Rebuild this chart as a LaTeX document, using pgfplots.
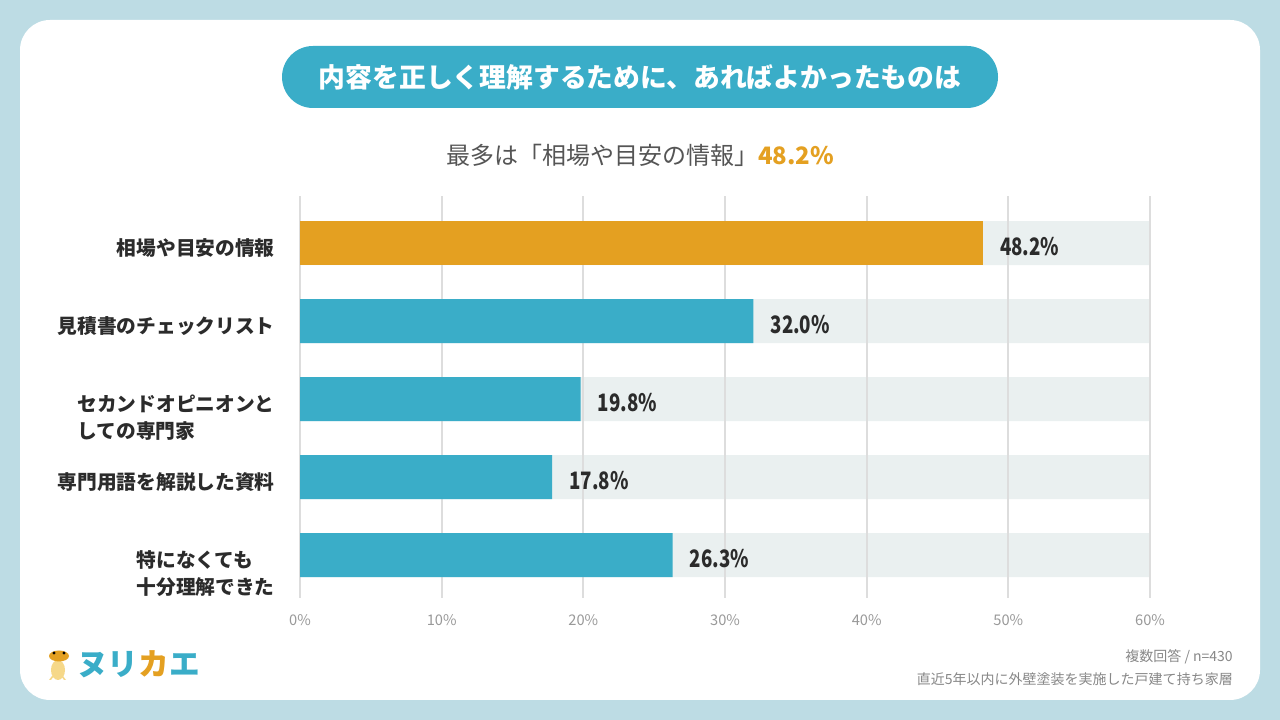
\documentclass[border=0pt]{standalone}
\usepackage{pgfplots}
\pgfplotsset{compat=1.18}
\usepackage{fontspec}
\setmainfont{Noto Sans CJK JP}
\newfontfamily\numfont{Noto Sans CJK JP}[FakeStretch=0.78]
\definecolor{pagebg}{HTML}{BDDCE4}
\definecolor{teal}{HTML}{3AADC8}
\definecolor{orng}{HTML}{E4A021}
\definecolor{barbg}{HTML}{EAF0F0}
\definecolor{gridc}{HTML}{DDDDDD}
\definecolor{dark}{HTML}{2B2B2B}
\definecolor{tickc}{HTML}{999999}
\definecolor{footc}{HTML}{888888}
\definecolor{subc}{HTML}{555555}
\definecolor{frogbody}{HTML}{F6D889}
\newcommand{\twoline}[2]{\begin{tabular}[t]{@{}l@{}}#1\\#2\end{tabular}}
\pgfplotsset{
  common/.style={
    at={(225pt,91.5pt)}, anchor=south west,
    scale only axis,
    width=637.5pt, height=301.3pt,
    xbar, bar width=33pt,
    xmin=0, xmax=60,
    ymin=-0.6, ymax=4.55,
    y dir=reverse,
    axis line style={draw=none},
    tick style={draw=none},
    major tick length=0pt,
    clip=false,
  },
  vlabel/.style={
    point meta=x,
    nodes near coords={\pgfmathprintnumber[fixed,fixed zerofill,precision=1]{\pgfplotspointmeta}\%},
    nodes near coords style={anchor=base west, inner sep=0pt, xshift=12.75pt, yshift=-9.5pt, font=\numfont\bfseries\fontsize{18}{22}\selectfont, text=dark, /pgf/number format/assume math mode=true},
  },
}
\begin{document}
\begin{tikzpicture}
\begin{scope}[x=0.75pt,y=0.75pt]
% background and panel
\fill[pagebg] (0,0) rectangle (1280,720);
\fill[white,rounded corners=22.5pt] (20,20) rectangle (1260,700);
% title pill
\fill[teal,rounded corners=23.25pt] (282,674) rectangle (998,612);
\node[text=white,font=\bfseries\fontsize{20.1}{24}\selectfont] at (640,643) {内容を正しく理解するために、あればよかったものは};
% subtitle
\node[font=\fontsize{18}{22}\selectfont] at (640,565) {\textcolor{subc}{最多は「相場や目安の情報」}\textcolor{orng}{\bfseries 48.2\%}};
\end{scope}
% axis 1: background bars only
\begin{axis}[common, xtick=\empty, ytick=\empty]
\addplot[draw=none, fill=barbg, bar shift=0pt] coordinates {(60,0) (60,1) (60,2) (60,3) (60,4)};
\end{axis}
% axis 2: grid, value bars, labels
\begin{axis}[common,
  xtick={0,10,20,30,40,50,60},
  xticklabel={\pgfmathprintnumber{\tick}\%},
  ytick={0,1,2,3,4},
  yticklabels={相場や目安の情報,見積書のチェックリスト,{\twoline{セカンドオピニオンと}{しての専門家}},専門用語を解説した資料,{\twoline{特になくても}{十分理解できた}}},
  /pgf/number format/assume math mode=true,
  xmajorgrids,
  grid style={gridc, line width=1.5pt},
  xticklabel style={font=\fontsize{11}{13}\selectfont, text=tickc, anchor=center, yshift=-16.5pt},
  yticklabel style={font=\bfseries\fontsize{14.8}{20.25}\selectfont, text=dark, anchor=base east, inner sep=0pt, xshift=-18.75pt, yshift=-9.3pt},
]
\addplot[draw=none, fill=teal, bar shift=0pt, vlabel]
  coordinates {(32.0,1) (19.8,2) (17.8,3) (26.3,4)};
\addplot[draw=none, fill=orng, bar shift=0pt, vlabel]
  coordinates {(48.2,0)};
\end{axis}
\begin{scope}[x=0.75pt,y=0.75pt]
% footnotes
\node[anchor=east, inner sep=0pt, text=footc, font=\fontsize{10.5}{12}\selectfont] at (1233,63) {複数回答 / n=430};
\node[anchor=east, inner sep=0pt, text=footc, font=\fontsize{10.5}{12}\selectfont] at (1233,41) {直近5年以内に外壁塗装を実施した戸建て持ち家層};
% logo
\fill[frogbody] (58,50) ellipse [x radius=7, y radius=10];
\fill[frogbody] (52,44) -- (49,40) -- (51,40) -- (54,44) -- cycle;
\fill[frogbody] (63,44) -- (66,40) -- (64,40) -- (61,44) -- cycle;
\fill[orng] (59,64) ellipse [x radius=10, y radius=5.5];
\fill[black] (54,67) circle (1.6);
\fill[black] (64,67) circle (1.6);
\node[anchor=west, inner sep=0pt, font=\bfseries\fontsize{23}{26}\selectfont] at (77,56) {\textcolor{teal}{ヌリ}\textcolor{orng}{カ}\textcolor{teal}{エ}};
\pgfresetboundingbox
\useasboundingbox (0,0) rectangle (1280,720);
\end{scope}
\end{tikzpicture}
\end{document}
